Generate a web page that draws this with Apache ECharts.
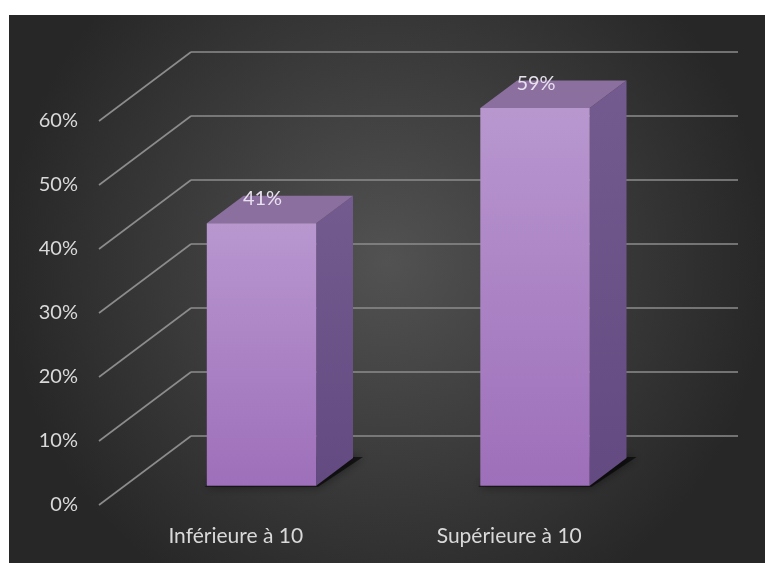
<!DOCTYPE html>
<html>
<head>
<meta charset="utf-8">
<script src="https://cdn.jsdelivr.net/npm/echarts@6/dist/echarts.min.js"></script>
<style>
  html, body { margin: 0; padding: 0; background: #ffffff; }
  #chart { width: 765px; height: 563px; }
</style>
</head>
<body>
<div id="chart"></div>
<script>
// Data
const categories = ['Inférieure à 10', 'Supérieure à 10'];
const values = [0.41, 0.59];
const tickValues = [0, 0.1, 0.2, 0.3, 0.4, 0.5, 0.6];

// Oblique depth vector of the 3D box (front plane -> back wall), in pixels
const DEPTH = [92, -69];
const BAR_FRONT = 0.28;   // depth fraction of the bar front face
const BAR_BACK = 0.68;    // depth fraction of the bar back face
const FONT = 'Lato, "Open Sans", sans-serif';
const pct = v => Math.round(v * 100) + '%';

const chart = echarts.init(document.getElementById('chart'), null, { renderer: 'canvas' });

const wallData = tickValues.map(v => [0, v]);
const barData = values.map((v, i) => [i, v]);

chart.setOption({
  animation: false,
  backgroundColor: 'transparent',
  graphic: [{
    type: 'rect',
    z: -10,
    shape: { x: 9, y: 15, width: 756, height: 548 },
    style: {
      fill: new echarts.graphic.RadialGradient(0.5, 0.45, 0.7, [
        { offset: 0, color: '#525252' },
        { offset: 1, color: '#272727' }
      ])
    }
  }],
  grid: { left: 99, right: 119, top: 121, bottom: 58 },
  xAxis: {
    type: 'category',
    data: categories,
    axisLine: { show: false },
    axisTick: { show: false },
    axisLabel: {
      color: '#d9d9d9',
      fontSize: 21,
      fontFamily: FONT,
      margin: 21
    }
  },
  yAxis: {
    type: 'value',
    min: 0,
    max: 0.6,
    interval: 0.1,
    axisLine: { show: false },
    axisTick: { show: false },
    splitLine: { show: false },
    axisLabel: {
      color: '#d9d9d9',
      fontSize: 20,
      fontFamily: FONT,
      margin: 21,
      formatter: pct
    }
  },
  series: [
    {
      // side wall diagonals and back wall gridlines
      type: 'custom',
      z: 1,
      silent: true,
      data: wallData,
      renderItem(params, api) {
        const cs = params.coordSys;
        const y = api.coord([0, api.value(1)])[1];
        const x0 = cs.x;
        const st = { stroke: '#8c8c8c', lineWidth: 1.6 };
        return {
          type: 'group',
          children: [
            { type: 'line', shape: { x1: x0, y1: y, x2: x0 + DEPTH[0], y2: y + DEPTH[1] }, style: st },
            { type: 'line', shape: { x1: x0 + DEPTH[0], y1: y + DEPTH[1], x2: x0 + cs.width + DEPTH[0], y2: y + DEPTH[1] }, style: st }
          ]
        };
      }
    },
    {
      // 3D columns
      type: 'custom',
      z: 2,
      data: barData,
      renderItem(params, api) {
        const idx = api.value(0);
        const v = api.value(1);
        const top = api.coord([idx, v]);
        const base = api.coord([idx, 0]);
        const bw = api.size([1, 0])[0] * 0.4;
        const fx = DEPTH[0] * BAR_FRONT, fy = DEPTH[1] * BAR_FRONT;
        const bx = DEPTH[0] * BAR_BACK, by = DEPTH[1] * BAR_BACK;
        const x1 = top[0] - bw / 2 + fx, x2 = top[0] + bw / 2 + fx;
        const yT = top[1] + fy, yB = base[1] + fy;
        const dx = bx - fx, dy = by - fy;

        const shadow = {
          type: 'polygon',
          shape: { points: [[x1 - 2, yB + 1], [x2 + 2, yB + 1], [x2 + dx + 10, yB + dy - 1], [x1 + dx, yB + dy - 1]] },
          style: { fill: 'rgba(0,0,0,0.6)', shadowBlur: 10, shadowColor: 'rgba(0,0,0,0.8)' }
        };
        const side = {
          type: 'polygon',
          shape: { points: [[x2, yT], [x2 + dx, yT + dy], [x2 + dx, yB + dy], [x2, yB]] },
          style: {
            fill: new echarts.graphic.LinearGradient(0, 0, 0, 1, [
              { offset: 0, color: '#735a8f' },
              { offset: 1, color: '#634a80' }
            ])
          }
        };
        const topFace = {
          type: 'polygon',
          shape: { points: [[x1, yT], [x1 + dx, yT + dy], [x2 + dx, yT + dy], [x2, yT]] },
          style: { fill: '#8a6f9f' }
        };
        const front = {
          type: 'rect',
          shape: { x: x1, y: yT, width: x2 - x1, height: yB - yT },
          style: {
            fill: new echarts.graphic.LinearGradient(0, 0, 0, 1, [
              { offset: 0, color: '#b897cf' },
              { offset: 1, color: '#9e6fba' }
            ])
          }
        };
        const label = {
          type: 'text',
          style: {
            text: pct(v),
            x: (x1 + x2) / 2 + 1,
            y: yT - 25,
            align: 'center',
            verticalAlign: 'middle',
            fill: '#e8e0ee',
            fontSize: 20,
            fontFamily: FONT
          }
        };
        return { type: 'group', children: [shadow, side, topFace, front, label] };
      }
    }
  ]
});
</script>
</body>
</html>
